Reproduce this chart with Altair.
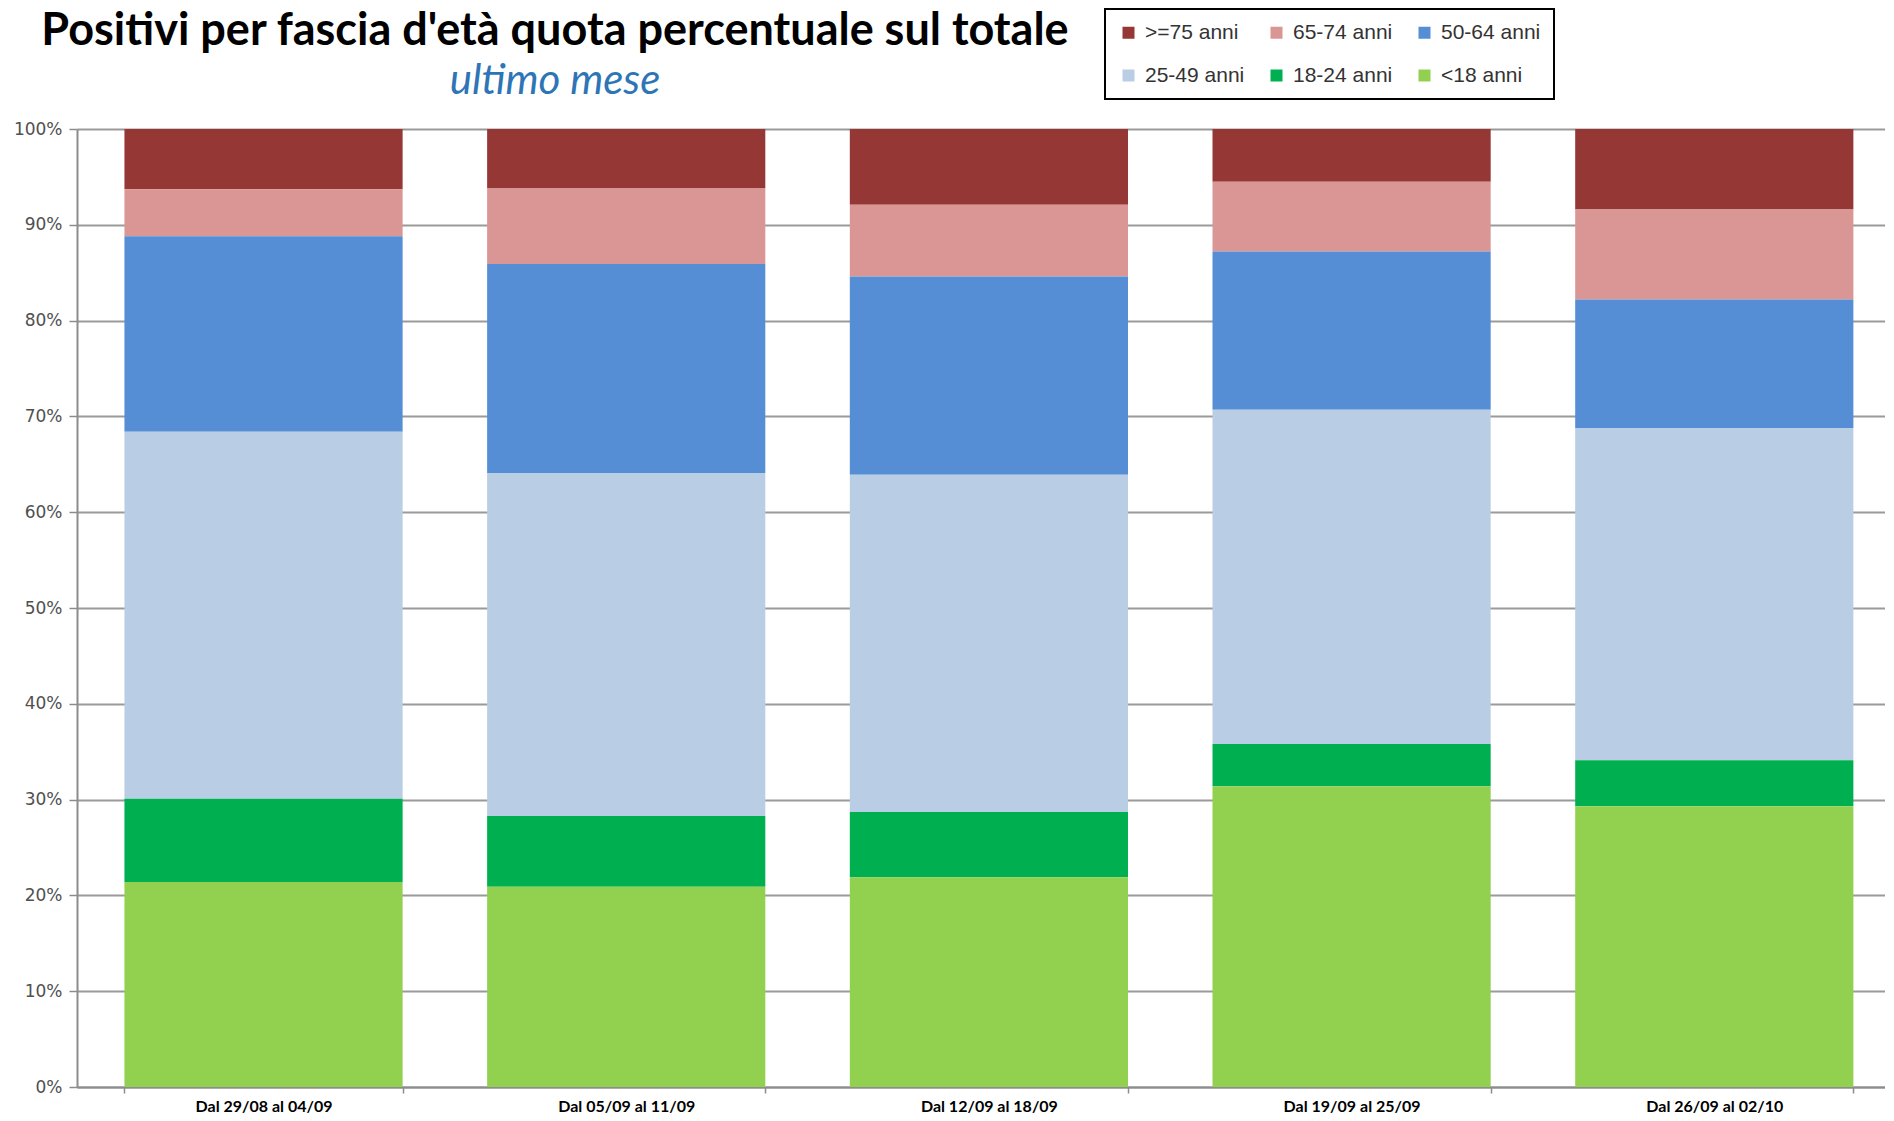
import altair as alt
import pandas as pd

periods = ["Dal 29/08 al 04/09", "Dal 05/09 al 11/09", "Dal 12/09 al 18/09",
           "Dal 19/09 al 25/09", "Dal 26/09 al 02/10"]
groups = [">=75 anni", "65-74 anni", "50-64 anni", "25-49 anni", "18-24 anni", "<18 anni"]
colors = ["#953735", "#D99694", "#558ED5", "#B9CDE5", "#00B050", "#92D050"]

ge75 = [6.3, 6.2, 7.9, 5.5, 8.4]
g65_74 = [4.9, 7.9, 7.5, 7.3, 9.4]
g50_64 = [20.4, 21.8, 20.7, 16.5, 13.4]
g25_49 = [38.3, 35.8, 35.2, 34.9, 34.7]
g18_24 = [8.7, 7.4, 6.8, 4.4, 4.8]
lt18 = [21.4, 20.9, 21.9, 31.4, 29.3]

series = [ge75, g65_74, g50_64, g25_49, g18_24, lt18]
rows = []
for gi, (g, vals) in enumerate(zip(groups, series)):
    for p, v in zip(periods, vals):
        rows.append({"periodo": p, "fascia": g, "quota": v / 100.0,
                     "ordine": len(groups) - 1 - gi})
df = pd.DataFrame(rows)

chart = alt.Chart(df).mark_bar().encode(
    x=alt.X("periodo:N", sort=periods,
            scale=alt.Scale(paddingInner=0.233, paddingOuter=0.109, align=0.6),
            axis=alt.Axis(title=None, labelAngle=0, tickBand="extent",
                          labelFont="Lato", labelFontSize=16, labelFontWeight="bold",
                          labelColor="#000000", labelPadding=5, tickSize=6,
                          tickColor="#8c8c8c", domainColor="#8c8c8c", domainWidth=2,
                          tickWidth=1.5, grid=False)),
    y=alt.Y("quota:Q", stack="zero",
            scale=alt.Scale(domain=[0, 1], nice=False),
            axis=alt.Axis(title=None, format=".0%", values=[i / 10 for i in range(11)],
                          labelFont="DejaVu Sans", labelFontSize=17, labelColor="#505050",
                          labelPadding=7, tickSize=8, tickColor="#8c8c8c", tickWidth=1.5,
                          domainColor="#8c8c8c", domainWidth=2,
                          grid=True, gridColor="#9a9a9a", gridWidth=2)),
    color=alt.Color("fascia:N",
                    scale=alt.Scale(domain=groups, range=colors),
                    legend=alt.Legend(orient="none", legendX=1028, legendY=-120,
                                      columns=3, direction="horizontal", title=None,
                                      symbolType="square", symbolSize=144,
                                      symbolStrokeWidth=0, labelFont="Liberation Sans",
                                      labelFontSize=21, labelColor="#333333",
                                      labelOffset=6, strokeColor="#000000",
                                      fillColor="#ffffff", padding=13,
                                      rowPadding=21, columnPadding=21, gridAlign="all")),
    order=alt.Order("ordine:Q", sort="ascending"),
).properties(
    width=1808,
    height=958,
    padding={"left": 5, "top": 0, "right": 0, "bottom": 0},
    title=alt.TitleParams(
        text="Positivi per fascia d'età quota percentuale sul totale",
        subtitle="ultimo mese",
        anchor="middle", dx=-426, offset=-94,
        font="Lato", fontSize=45, fontWeight="bold", color="#000000",
        subtitleFont="Lato", subtitleFontStyle="italic", subtitleFontSize=42,
        subtitleColor="#2E75B6", subtitlePadding=7,
    ),
).configure_view(stroke=None).configure_axis(labelFlush=False).configure_legend(strokeWidth=2)

chart.save("out.html", embed_options={"renderer": "svg", "actions": False})
